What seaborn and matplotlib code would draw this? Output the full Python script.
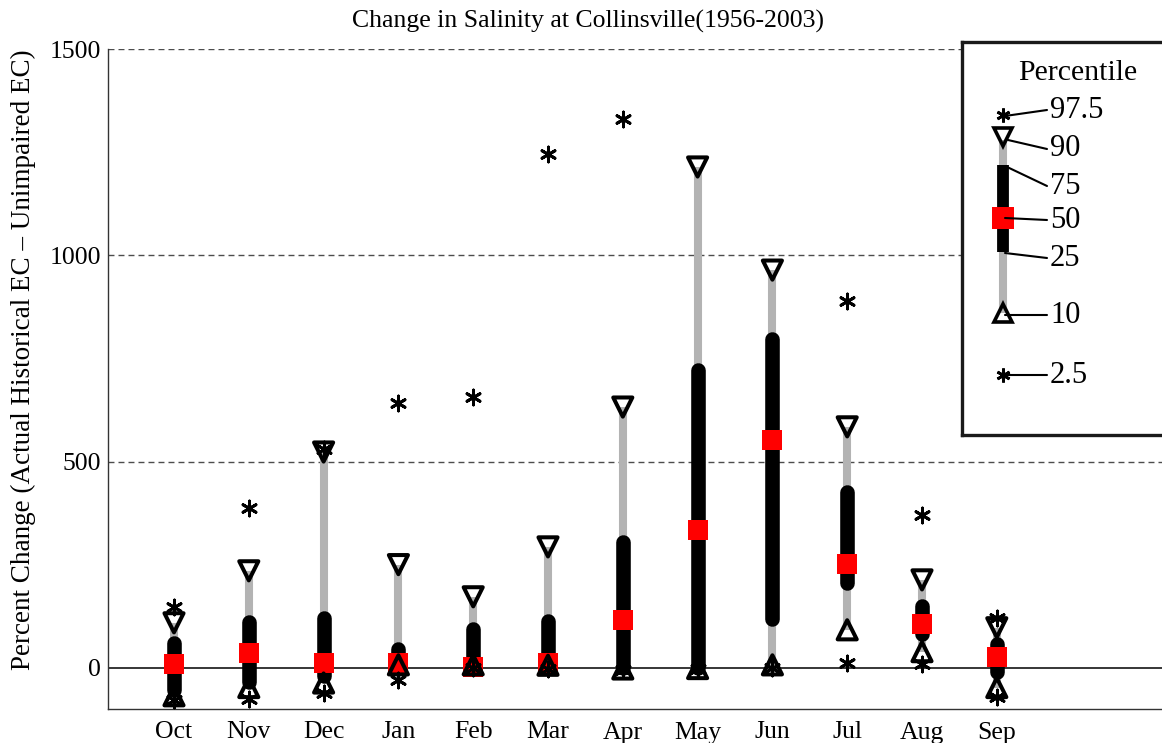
import numpy as np
import pandas as pd
import matplotlib
matplotlib.use("Agg")
import matplotlib.pyplot as plt
import seaborn as sns

months = ["Oct", "Nov", "Dec", "Jan", "Feb", "Mar", "Apr", "May", "Jun", "Jul", "Aug", "Sep"]
p97_5 = [148, 388, 530, 642, 657, 1245, 1330, 1650, 1650, 889, 371, 121]
p90 = [109, 235, 523, 250, 172, 293, 632, 1214, 964, 584, 213, 97]
p75 = [60, 110, 120, 45, 95, 113, 305, 722, 797, 427, 150, 58]
p50 = [10, 36, 12, 12, 3, 12, 116, 334, 552, 252, 107, 27]
p25 = [-55, -35, -20, 0, 0, 0, 0, 0, 117, 205, 83, -10]
p10 = [-68, -48, -37, 7, 7, 6, -3, -2, 7, 92, 39, -48]
p2_5 = [-77, -75, -60, -29, 0, -2, -5, -4, 0, 12, 10, -72]

title = "Change in Salinity at Collinsville(1956-2003)"
ylabel = "Percent Change (Actual Historical EC \u2013 Unimpaired EC)"
legend_title = "Percentile"
legend_labels = ["97.5", "90", "75", "50", "25", "10", "2.5"]

sns.set_theme(style="white")
plt.rcParams["font.family"] = ["Liberation Serif", "DejaVu Serif"]
plt.rcParams.update({"text.color": "black", "axes.labelcolor": "black",
                     "xtick.color": "black", "ytick.color": "black"})

df = pd.DataFrame({
    "month": months,
    "pos": np.arange(1, len(months) + 1),
    "p97_5": p97_5, "p90": p90, "p75": p75, "p50": p50,
    "p25": p25, "p10": p10, "p2_5": p2_5,
})

W, H = 1162, 743
fig = plt.figure(figsize=(W / 100, H / 100), dpi=100)
ax = fig.add_axes([108 / W, 1 - 709 / H, (W - 108) / W, (709 - 49) / H])

# 10th-90th range (grey) and interquartile range (black)
ax.vlines(df["pos"], df["p10"], df["p90"], color="#b3b3b3", lw=5.8,
          capstyle="butt", zorder=2)
ax.vlines(df["pos"], df["p25"], df["p75"], color="black", lw=10.5,
          capstyle="round", zorder=3)

# medians
sns.scatterplot(data=df, x="pos", y="p50", marker="s", s=215, color="#ff0000",
                linewidth=0, ax=ax, zorder=4, legend=False)

# 90th and 10th percentiles
for col, mk in [("p90", "v"), ("p10", "^")]:
    sns.scatterplot(data=df, x="pos", y=col, marker=mk, s=190, color="black",
                    linewidth=2.9, ax=ax, zorder=5, legend=False)
    ax.collections[-1].set_facecolor("none")
    ax.collections[-1].set_edgecolor("black")

# 97.5th and 2.5th percentiles
for col in ["p97_5", "p2_5"]:
    sns.scatterplot(data=df, x="pos", y=col, marker=(6, 2, 0), s=115,
                    color="black", edgecolor="black", linewidth=2.1, ax=ax,
                    zorder=6, legend=False)

ax.axhline(0, color="black", lw=1.1, zorder=1)
for yv in [500, 1000, 1500]:
    ax.axhline(yv, color="#4d4d4d", lw=1.0, ls=(0, (4.3, 2.9)), zorder=0)

ax.set_xlim(1 - 66 / 74.8, 1 + (W - 174) / 74.8)
ax.set_ylim(-100, 1500)
ax.set_xticks(df["pos"])
ax.set_xticklabels(months)
ax.set_yticks([0, 500, 1000, 1500])
ax.tick_params(axis="both", direction="in", length=5.5, width=0.8,
               labelsize=18.5, colors="black")
ax.tick_params(axis="x", pad=9)
ax.tick_params(axis="y", pad=5)
ax.set_xlabel("")
ax.set_ylabel("")
fig.text(23 / W, 1 - 360 / H, ylabel, rotation=90, fontsize=19.5,
         ha="center", va="center")
fig.text(588 / W, 1 - 21 / H, title, fontsize=18.5, ha="center", va="center")
for side in ["top", "right"]:
    ax.spines[side].set_visible(False)
for side in ["left", "bottom"]:
    ax.spines[side].set_color("#333333")
    ax.spines[side].set_linewidth(1.0)
ax.set_facecolor("white")

# percentile key, laid out in pixel units
lg = fig.add_axes([962 / W, 1 - 435 / H, 230 / W, (435 - 42) / H])
lg.set_xlim(962, 1192)
lg.set_ylim(435, 42)
lg.set_xticks([])
lg.set_yticks([])
for s in lg.spines.values():
    s.set_linewidth(2.4)
    s.set_color("#1a1a1a")
lg.set_facecolor("white")
cx = 1003
lg.plot([cx, cx], [140, 313], color="#b3b3b3", lw=5.8, solid_capstyle="butt", zorder=1)
lg.plot([cx, cx], [165, 252], color="black", lw=8.5, solid_capstyle="butt", zorder=2)
lg.plot([cx], [218], marker="s", ms=15.5, color="#ff0000", mew=0, zorder=3)
lg.plot([cx], [137], marker="v", ms=13.5, mfc="none", mec="black", mew=2.6, zorder=4)
lg.plot([cx], [313], marker="^", ms=13.5, mfc="none", mec="black", mew=2.6, zorder=4)
lg.plot([cx], [115], marker=(6, 2, 0), ms=10, mec="black", mew=2.0, zorder=5)
lg.plot([cx], [375], marker=(6, 2, 0), ms=10, mec="black", mew=2.0, zorder=5)
lead_from = [(1005, 116), (1008, 140), (1005, 166), (1005, 218),
             (1005, 253), (1005, 315), (1005, 375)]
lead_to = [(1047, 110), (1047, 149), (1047, 186), (1047, 220),
           (1047, 258), (1047, 315), (1047, 375)]
for (x0, y0), (x1, y1), lab in zip(lead_from, lead_to, legend_labels):
    lg.plot([x0, x1], [y0, y1], color="black", lw=1.5, zorder=3)
    lg.text(x1 + 3, y1, lab, fontsize=22, va="center", ha="left")
lg.text(1078, 73, legend_title, fontsize=21.5, va="center", ha="center")

fig.savefig("out.png", dpi=100, facecolor="white")
